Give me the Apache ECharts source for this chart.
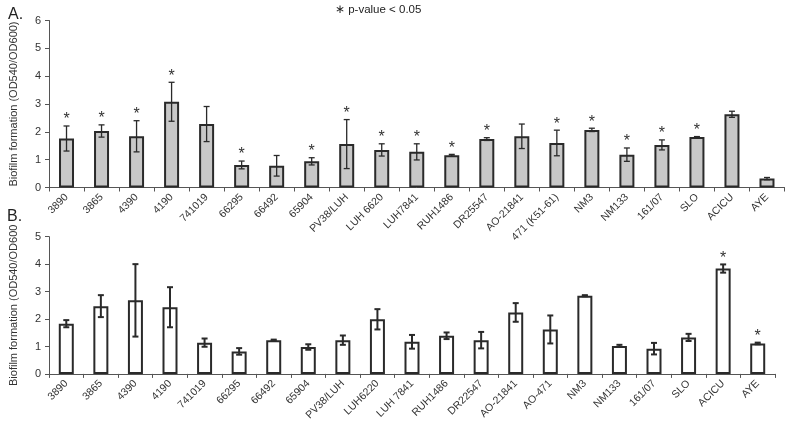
<!DOCTYPE html>
<html>
<head>
<meta charset="utf-8">
<script src="https://cdn.jsdelivr.net/npm/echarts@6/dist/echarts.min.js"></script>
<style>html,body{margin:0;padding:0;background:#fff}#c{width:787px;height:423px}</style>
</head>
<body>
<div id="c"></div>
<script>
var catsA = ['3890','3865','4390','4190','741019','66295','66492','65904','PV38/LUH','LUH 6620','LUH7841','RUH1486','DR25547','AO-21841','471 (K51-61)','NM3','NM133','161/07','SLO','ACICU','AYE'];
var valsA = [1.76,2.03,1.84,3.08,2.28,0.81,0.78,0.94,1.56,1.35,1.28,1.16,1.74,1.84,1.60,2.07,1.18,1.53,1.81,2.63,0.32];
var errA  = [0.45,0.22,0.56,0.70,0.63,0.14,0.37,0.13,0.88,0.22,0.29,0.03,0.05,0.44,0.46,0.06,0.24,0.18,0.02,0.11,0.04];
var starA = [1,1,1,1,0,1,0,1,1,1,1,1,1,0,1,1,1,1,1,0,0];

var catsB = ['3890','3865','4390','4190','741019','66295','66492','65904','PV38/LUH','LUH6220','LUH 7841','RUH1486','DR22547','AO-21841','AO-471','NM3','NM133','161/07','SLO','ACICU','AYE'];
var valsB = [1.83,2.47,2.68,2.43,1.14,0.82,1.23,0.98,1.23,1.99,1.17,1.39,1.23,2.24,1.62,2.85,1.02,0.92,1.33,3.84,1.11];
var errB  = [0.13,0.40,1.32,0.73,0.15,0.12,0.02,0.10,0.17,0.37,0.25,0.12,0.30,0.34,0.51,0.02,0.04,0.21,0.13,0.15,0.03];
var starB = [0,0,0,0,0,0,0,0,0,0,0,0,0,0,0,0,0,0,0,1,1];

var ticksA = [0,1,2,3,4,5,6];
var ticksB = [0,1,2,3,4,5];

var FONT = 'Liberation Sans, Arial, sans-serif';
var chart = echarts.init(document.getElementById('c'));

function errData(vals, errs, stars){
  return vals.map(function(v,i){ return [i, v, errs[i], stars[i]]; });
}
function makeErr(lw){
  return function(params, api){
    var i = api.value(0), v = api.value(1), e = api.value(2), s = api.value(3);
    var top = api.coord([i, v + e]);
    var bot = api.coord([i, v - e]);
    var x = top[0], cw = 3;
    var st = {stroke:'#2a2a2a', lineWidth: lw};
    var ch = [
      {type:'line', shape:{x1:x,y1:top[1],x2:x,y2:bot[1]}, style:st},
      {type:'line', shape:{x1:x-cw,y1:top[1],x2:x+cw,y2:top[1]}, style:st},
      {type:'line', shape:{x1:x-cw,y1:bot[1],x2:x+cw,y2:bot[1]}, style:st}
    ];
    if (s) {
      ch.push({type:'text', style:{text:'*', x:x, y:top[1]-6, align:'center', verticalAlign:'middle', font:'16px ' + FONT, fill:'#333'}});
    }
    return {type:'group', children: ch};
  };
}

function xAxis(cats, gi){
  return {
    type:'category', data: cats, gridIndex: gi,
    axisLine:{lineStyle:{color:'#555', width:1}},
    axisTick:{show:true, length:4, lineStyle:{color:'#555'}},
    axisLabel:{rotate:45, fontSize:10.5, color:'#333', fontFamily:FONT, margin:8, interval:0}
  };
}
function yAxis(ticks, gi, name){
  return {
    type:'value', gridIndex: gi, min: ticks[0], max: ticks[ticks.length-1], interval: 1,
    name: name, nameLocation:'middle', nameGap: 30, nameRotate: 90,
    nameTextStyle:{fontSize:11, color:'#333', fontFamily:FONT},
    axisLine:{show:true, lineStyle:{color:'#555', width:1}},
    axisTick:{show:true, length:4, lineStyle:{color:'#555'}},
    axisLabel:{fontSize:11, color:'#333', fontFamily:FONT, margin:8},
    splitLine:{show:false}
  };
}

chart.setOption({
  animation:false,
  backgroundColor:'#fff',
  title:[
    {text:'A.', left:3, top:2, textStyle:{fontSize:16, fontWeight:'normal', color:'#222', fontFamily:FONT}},
    {text:'B.', left:2, top:204, textStyle:{fontSize:16, fontWeight:'normal', color:'#222', fontFamily:FONT}},
    {text:'\u2217 p-value < 0.05', left:330, top:-1, textStyle:{fontSize:11.5, fontWeight:'normal', color:'#222', fontFamily:FONT}}
  ],
  grid:[
    {left:48.5, right:2.5, top:20.5, height:167},
    {left:42.5, right:12, top:236.7, height:137.6}
  ],
  xAxis:[xAxis(catsA,0), xAxis(catsB,1)],
  yAxis:[yAxis(ticksA,0,'Biofilm formation (OD540/OD600)'), yAxis(ticksB,1,'Biofilm formation (OD540/OD600')],
  series:[
    {type:'bar', xAxisIndex:0, yAxisIndex:0, data:valsA, barWidth:15,
     itemStyle:{color:'#c8c8c8', borderColor:'#2a2a2a', borderWidth:2}},
    {type:'custom', xAxisIndex:0, yAxisIndex:0, data:errData(valsA,errA,starA), renderItem:makeErr(1.3), z:5},
    {type:'bar', xAxisIndex:1, yAxisIndex:1, data:valsB, barWidth:15,
     itemStyle:{color:'#fff', borderColor:'#2a2a2a', borderWidth:2}},
    {type:'custom', xAxisIndex:1, yAxisIndex:1, data:errData(valsB,errB,starB), renderItem:makeErr(2), z:5}
  ]
});
</script>
</body>
</html>
